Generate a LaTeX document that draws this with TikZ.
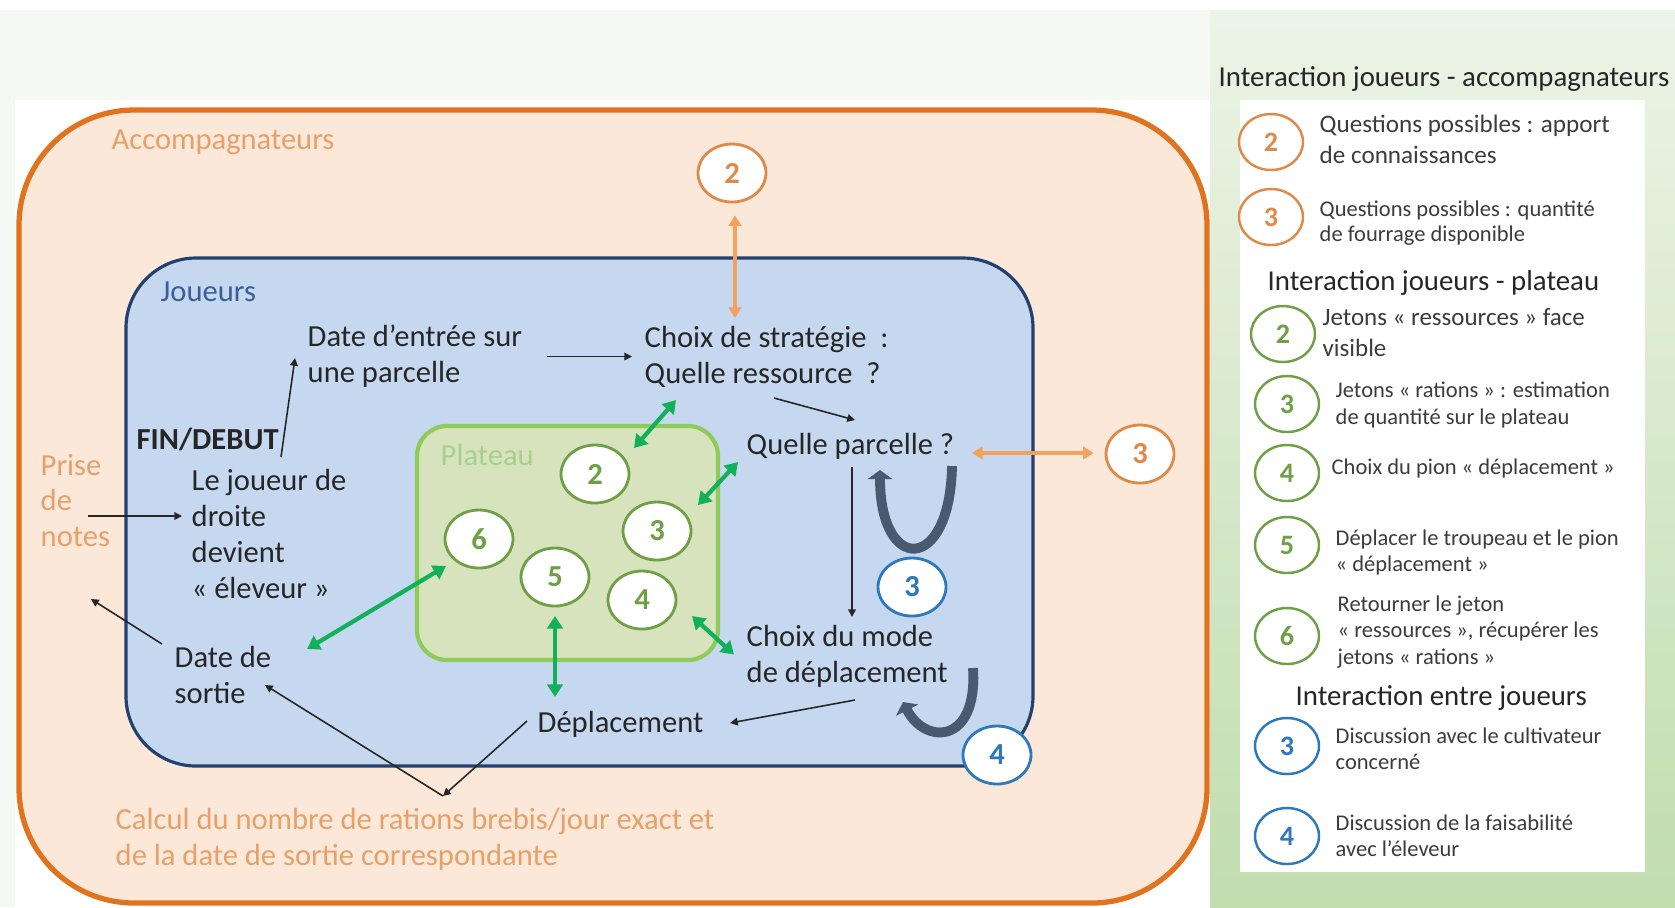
\documentclass[tikz,border=0pt]{standalone}
\usepackage{fontspec}
\setmainfont{Carlito}
\usepackage{xcolor}
\definecolor{bgpale}{RGB}{246,248,243}
\definecolor{panelgreentop}{RGB}{236,244,231}
\definecolor{panelgreen}{RGB}{193,221,174}
\definecolor{accline}{RGB}{226,115,30}
\definecolor{accfill}{RGB}{252,232,216}
\definecolor{acctext}{RGB}{230,160,106}
\definecolor{accring}{RGB}{222,138,72}
\definecolor{accarrow}{RGB}{243,161,94}
\definecolor{jblue}{RGB}{197,216,240}
\definecolor{jnavy}{RGB}{35,64,110}
\definecolor{jlabel}{RGB}{58,95,152}
\definecolor{pfill}{RGB}{215,227,188}
\definecolor{pline}{RGB}{143,203,90}
\definecolor{plabel}{RGB}{168,208,141}
\definecolor{pring}{RGB}{111,160,70}
\definecolor{parrow}{RGB}{18,176,90}
\definecolor{bring}{RGB}{46,120,188}
\definecolor{uturn}{RGB}{71,90,112}
\definecolor{ink}{RGB}{38,38,38}
\definecolor{legink}{RGB}{60,60,60}
\usetikzlibrary{arrows.meta,positioning,shapes.geometric,calc}

\begin{document}
\begin{tikzpicture}[x=0.1mm, y=-0.1mm,
  lbl/.style={anchor=west, align=left, inner sep=0pt, text=ink,
    font=\fontsize{8.7}{10.2}\selectfont},
  legtitle/.style={anchor=west, inner sep=0pt, text=ink,
    font=\fontsize{8.2}{9.8}\selectfont},
  legtext/.style={anchor=west, align=left, inner sep=0pt, text=legink,
    font=\fontsize{6.4}{7.5}\selectfont},
  token/.style={ellipse, draw, line width=0.8pt, fill=white, inner sep=0pt,
    minimum width=6.8mm, minimum height=5.8mm,
    font=\fontsize{8.7}{10}\selectfont\bfseries},
  legtoken/.style={minimum width=6.4mm, minimum height=5.6mm, line width=0.7pt,
    font=\fontsize{8}{9}\selectfont\bfseries},
  acctoken/.style={token, draw=accring, text=accring},
  platoken/.style={token, draw=pring, text=pring},
  bluetoken/.style={token, draw=bring, text=bring},
  thinarrow/.style={-{Triangle[length=2.2pt,width=2.2pt]}, ink, line width=0.45pt},
  greenarrow/.style={{Triangle[length=3.6pt,width=4.4pt]}-{Triangle[length=3.6pt,width=4.4pt]},
    parrow, line width=1.2pt},
  orangearrow/.style={{Triangle[length=3pt,width=3.6pt]}-{Triangle[length=3pt,width=3.6pt]},
    accarrow, line width=0.9pt},
  uturnarrow/.style={-{Triangle[length=2.6pt,width=7pt]}, uturn, line width=2.8pt}]

\useasboundingbox (0,0) rectangle (1675,907);

% --- Background ---
\fill[white] (0,0) rectangle (1675,907);
\fill[bgpale] (0,10) rectangle (1675,907);
\shade[top color=panelgreentop, bottom color=panelgreen] (1210,10) rectangle (1675,907);
\fill[white] (15,100) rectangle (1210,907);
\fill[white] (1240,100) rectangle (1645,872);

% --- Accompagnateurs ---
\draw[accline, line width=1.5pt, fill=accfill, rounded corners=11.5mm] (19,110) rectangle (1207,903);
\node[lbl, text=acctext] (accomp) at (111,142) {Accompagnateurs};

% --- Joueurs ---
\draw[jnavy, line width=0.9pt, fill=jblue, rounded corners=7mm] (126,258) rectangle (1033,766);
\node[lbl, text=jlabel] (joueurs) at (160,292) {Joueurs};

% --- Plateau ---
\draw[pline, line width=1.2pt, fill=pfill, rounded corners=3mm] (417,426) rectangle (718,660);
\node[lbl, text=plabel] (plateau) at (440,455) {Plateau};

% Steps of a turn
\node[lbl] (entree) at (307,356.5) {Date d’entrée sur\\une parcelle};
\node[lbl] (strat) at (644,356.5) {Choix de stratégie~~:\\Quelle ressource~~?};
\node[lbl] (parcelle) at (746,446) {Quelle parcelle ?};
\node[lbl, font=\fontsize{8.7}{10.2}\selectfont\bfseries] (findebut) at (136,439) {FIN/DEBUT};
\node[lbl] (joueur) at (191,534) {Le joueur de\\droite\\devient\\«~éleveur~»};
\node[lbl, text=acctext] (prise) at (40,500.5) {Prise\\de\\notes};
\node[lbl] (sortie) at (174,675) {Date de\\sortie};
\node[lbl] (mode) at (746,656.5) {Choix du mode\\de déplacement};
\node[lbl] (depl) at (537,724) {Déplacement};
\node[lbl, text=acctext] (calcul) at (115,839.5) {Calcul du nombre de rations brebis/jour exact et\\de la date de sortie correspondante};

% Tokens
\node[platoken] (p2) at (595,474) {2};
\node[platoken] (p3) at (657,531) {3};
\node[platoken] (p4) at (642,600) {4};
\node[platoken] (p5) at (555,577) {5};
\node[platoken] (p6) at (479,539) {6};
\node[acctoken] (o2) at (732,173) {2};
\node[acctoken] (o3) at (1140,454) {3};
\node[bluetoken] (b3) at (912,587) {3};
\node[bluetoken] (b4) at (997,755) {4};

% Flow between steps
\draw[thinarrow] ([shift={(145,18)}]findebut.west) -- ([shift={(-12,1.5)}]entree.west);
\draw[thinarrow] ([shift={(240,0)}]entree.west) -- ([shift={(-12,0)}]strat.west);
\draw[thinarrow] ([shift={(130,41.5)}]strat.west) -- ([shift={(109,-26)}]parcelle.west);
\draw[thinarrow] ([shift={(106,21)}]parcelle.west) -- ([shift={(106,-39.5)}]mode.west);
\draw[thinarrow] ([shift={(109,43.5)}]mode.west) -- ([shift={(193,-1)}]depl.west);
\draw[thinarrow] ([shift={(48,15.5)}]prise.west) -- ([shift={(-9,-18)}]joueur.west);
\coordinate (noteend) at (91,599);
\draw[thinarrow] ([shift={(-12,-31)}]sortie.west) -- (noteend);
\coordinate (calcpt) at (443,796);
\draw[thinarrow] ([shift={(-10,-3)}]depl.west) -- (calcpt);
\draw[thinarrow] (calcpt) -- ([shift={(91,10)}]sortie.west);

% Player - board interactions
\draw[greenarrow] ([shift={(39,-26)}]p2.center) -- ([shift={(32,43.5)}]strat.west);
\draw[greenarrow] ([shift={(41,-26)}]p3.center) -- ([shift={(-8,16)}]parcelle.west);
\draw[greenarrow] ([shift={(50,16)}]p4.center) -- ([shift={(-12,-2)}]mode.west);
\draw[greenarrow] ([shift={(0,39)}]p5.center) -- ([shift={(18,-27)}]depl.west);
\draw[greenarrow] ([shift={(-33,27)}]p6.center) -- ([shift={(133,-26)}]sortie.west);

% Player - facilitator interactions
\draw[orangearrow] ([shift={(3,12)}]o2.south) -- ([shift={(91,-38.5)}]strat.west);
\draw[orangearrow] ([shift={(226,7)}]parcelle.west) -- ([shift={(-11,-1)}]o3.west);

% Between players
\draw[uturnarrow] (952,466) .. controls (950,574) and (880,574) .. (880,470);
\draw[uturnarrow] (973,668) .. controls (978,745) and (925,745) .. (903,702);

% --- Legend ---
\node[legtitle] (lgacc) at (1218,79) {Interaction joueurs - accompagnateurs};
\node[acctoken, legtoken] (la2) at (1271,142) {2};
\node[legtext, font=\fontsize{7.15}{8.8}\selectfont] (la2t) at (1319,139.5) {Questions possibles~: apport\\de connaissances};
\node[acctoken, legtoken] (la3) at (1271,217) {3};
\node[legtext, font=\fontsize{6.4}{7.3}\selectfont] (la3t) at (1319,223) {Questions possibles : quantité\\de fourrage disponible};

\node[legtitle] (lgpla) at (1267,283) {Interaction joueurs - plateau};
\node[platoken, legtoken] (lp2) at (1283,334) {2};
\node[legtext, font=\fontsize{7.1}{8.8}\selectfont] (lp2t) at (1322,332.5) {Jetons «~ressources~» face\\visible};
\node[platoken, legtoken] (lp3) at (1287,404) {3};
\node[legtext] (lp3t) at (1335,405) {Jetons «~rations~»~: estimation\\de quantité sur le plateau};
\node[platoken, legtoken] (lp4) at (1287,473) {4};
\node[legtext] (lp4t) at (1331,468) {Choix du pion «~déplacement~»};
\node[platoken, legtoken] (lp5) at (1287,545) {5};
\node[legtext] (lp5t) at (1335,552.5) {Déplacer le troupeau et le pion\\«~déplacement~»};
\node[platoken, legtoken] (lp6) at (1287,636) {6};
\node[legtext] (lp6t) at (1337,632) {Retourner le jeton\\«~ressources~», récupérer les\\jetons «~rations~»};

\node[legtitle] (lgent) at (1295,698) {Interaction entre joueurs};
\node[bluetoken, legtoken] (lb3) at (1287,746) {3};
\node[legtext] (lb3t) at (1335,748.5) {Discussion avec le cultivateur\\concerné};
\node[bluetoken, legtoken] (lb4) at (1287,836) {4};
\node[legtext] (lb4t) at (1335,835.5) {Discussion de la faisabilité\\avec l’éleveur};

\end{tikzpicture}
\end{document}
